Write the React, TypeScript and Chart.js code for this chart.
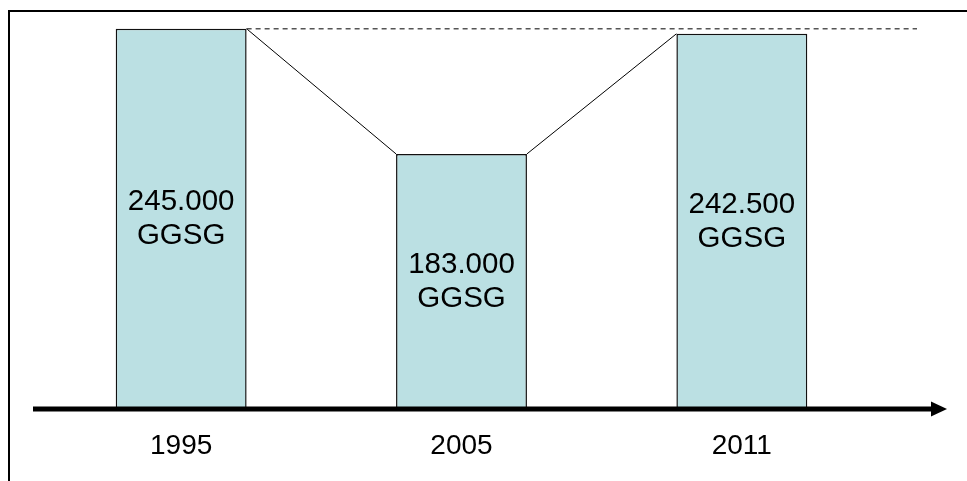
import React, { useEffect, useRef } from "react";
import { Chart, registerables } from "chart.js";

Chart.register(...registerables);

const years = ["1995", "2005", "2011"];
const values = [245000, 183000, 242500];
const unit = "GGSG";
const yMin = 57600;
const yMax = 254300;

const FONT = '"Liberation Sans", Arial, sans-serif';
const BAR_FILL = "#BBE0E3";

function fmt(v: number): string {
  return String(v).replace(/\B(?=(\d{3})+(?!\d))/g, ".");
}

const decorPlugin = {
  id: "decor",
  beforeDraw(chart: any) {
    const ctx = chart.ctx;
    ctx.save();
    ctx.fillStyle = "#ffffff";
    ctx.fillRect(0, 0, chart.width, chart.height);
    // frame
    ctx.strokeStyle = "#000";
    ctx.lineWidth = 2;
    ctx.beginPath();
    ctx.moveTo(9, chart.height + 2);
    ctx.lineTo(9, 11);
    ctx.lineTo(chart.width + 2, 11);
    ctx.stroke();
    ctx.restore();
  },
  afterDatasetsDraw(chart: any) {
    const ctx = chart.ctx;
    const meta = chart.getDatasetMeta(0);
    const bars = meta.data as any[];
    const area = chart.chartArea;
    ctx.save();
    // connectors
    ctx.strokeStyle = "#000";
    ctx.lineWidth = 1;
    for (let i = 0; i < bars.length - 1; i++) {
      const a = bars[i];
      const b = bars[i + 1];
      ctx.beginPath();
      ctx.moveTo(a.x + a.width / 2, a.y);
      ctx.lineTo(b.x - b.width / 2, b.y);
      ctx.stroke();
    }
    // dashed reference line at first bar top
    const f = bars[0];
    ctx.strokeStyle = "#555";
    ctx.lineWidth = 1.5;
    ctx.setLineDash([5, 4]);
    ctx.beginPath();
    ctx.moveTo(f.x + f.width / 2, f.y);
    ctx.lineTo(917, f.y);
    ctx.stroke();
    ctx.setLineDash([]);
    // axis arrow
    const yAxis = area.bottom + 2;
    ctx.fillStyle = "#000";
    ctx.fillRect(33, yAxis - 2.5, 900, 5);
    ctx.beginPath();
    ctx.moveTo(931, yAxis - 7.5);
    ctx.lineTo(947, yAxis);
    ctx.lineTo(931, yAxis + 7.5);
    ctx.closePath();
    ctx.fill();
    // value labels
    ctx.fillStyle = "#000";
    ctx.font = "29.5px " + FONT;
    ctx.textAlign = "center";
    ctx.textBaseline = "middle";
    bars.forEach((bar: any, i: number) => {
      const cy = (bar.y + area.bottom) / 2;
      ctx.fillText(fmt(values[i]), bar.x, cy - 16);
      ctx.fillText(unit, bar.x, cy + 18);
    });
    ctx.restore();
  },
};

export default function App() {
  const ref = useRef<HTMLCanvasElement | null>(null);
  useEffect(() => {
    if (!ref.current) return;
    const chart = new Chart(ref.current, {
      type: "bar",
      data: {
        labels: years,
        datasets: [
          {
            data: values,
            backgroundColor: BAR_FILL,
            borderColor: "#111",
            borderWidth: 1.5,
            borderSkipped: "bottom",
            barPercentage: 0.467,
            categoryPercentage: 1,
          },
        ],
      },
      options: {
        responsive: true,
        maintainAspectRatio: false,
        animation: false,
        layout: { padding: { left: 41, right: 85, top: 10, bottom: 0 } },
        plugins: {
          legend: { display: false },
          tooltip: { enabled: false },
          title: { display: false },
        },
        scales: {
          x: {
            grid: { display: false, drawTicks: false },
            border: { display: false },
            ticks: {
              color: "#000",
              font: { family: FONT, size: 28 },
              padding: 22,
              maxRotation: 0,
            },
            afterFit: (scale: any) => {
              scale.height = 74;
            },
          },
          y: {
            display: false,
            min: yMin,
            max: yMax,
          },
        },
      },
      plugins: [decorPlugin],
    });
    return () => chart.destroy();
  }, []);
  return (
    <div style={{ position: "absolute", left: 0, top: 0, width: 967, height: 481 }}>
      <canvas ref={ref} />
    </div>
  );
}
